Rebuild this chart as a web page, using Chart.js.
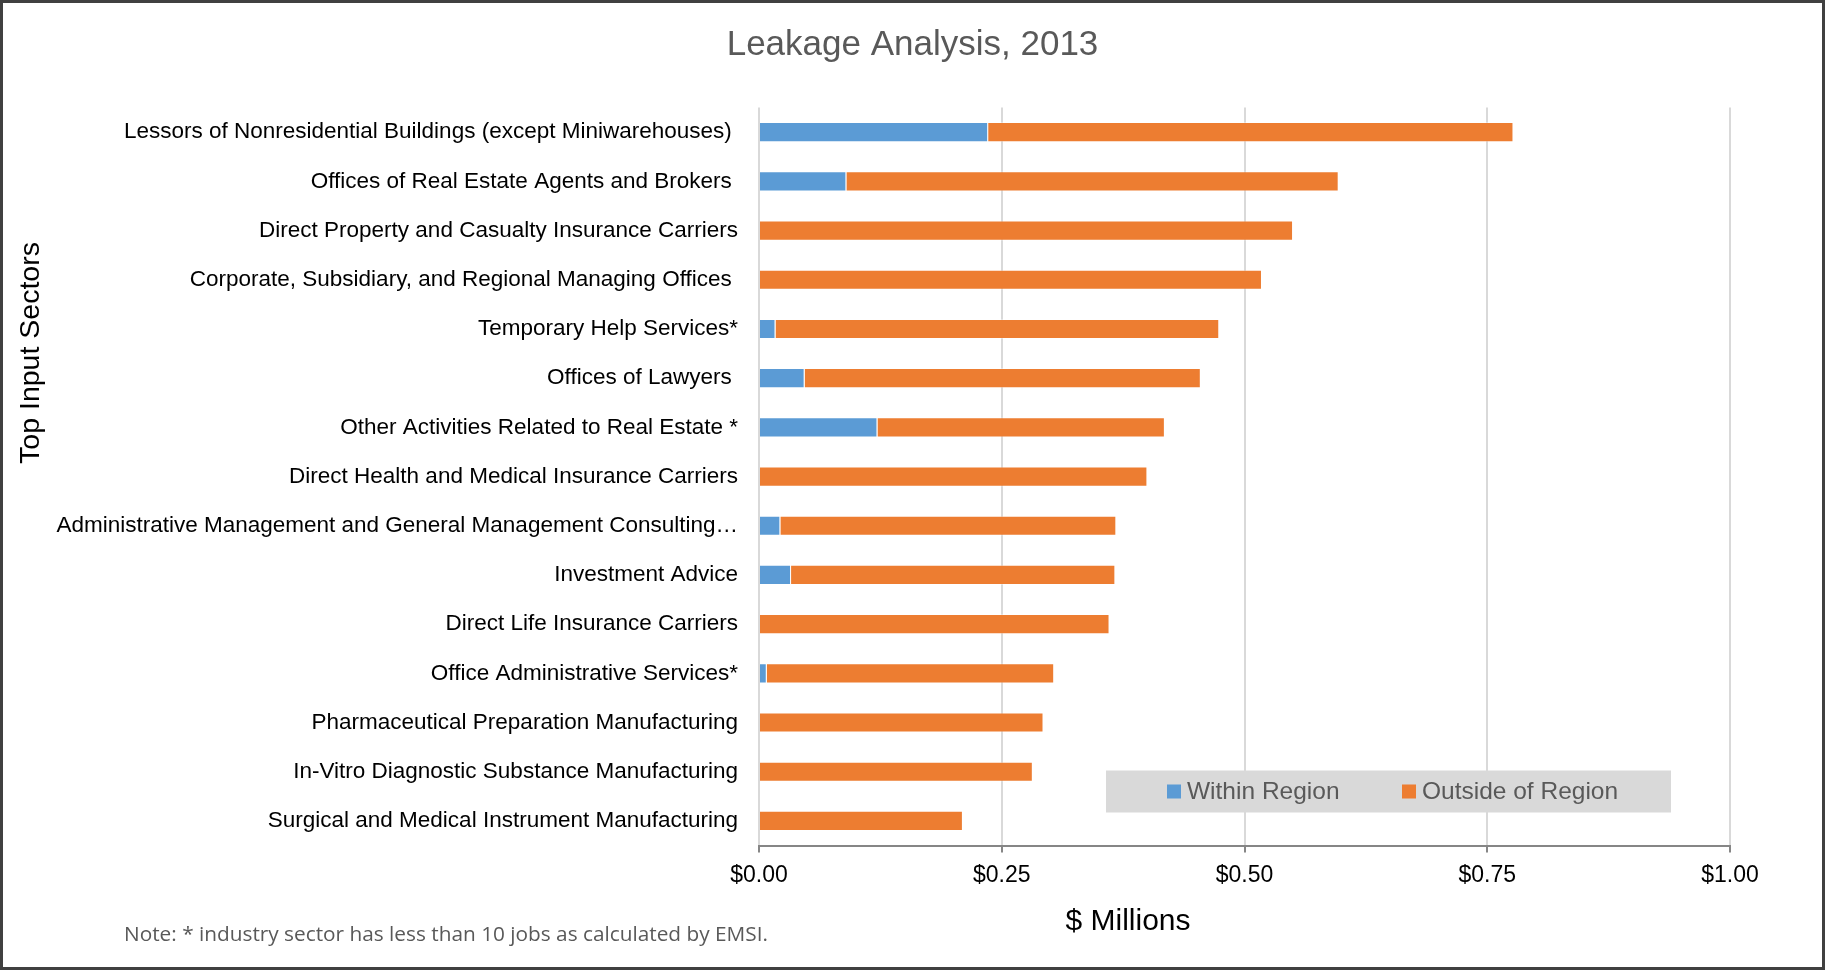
<!DOCTYPE html>
<html>
<head>
<meta charset="utf-8">
<title>Leakage Analysis, 2013</title>
<script src="https://cdn.jsdelivr.net/npm/chart.js@4/dist/chart.umd.min.js"></script>
<style>
  html, body { margin: 0; padding: 0; background: #fff; overflow: hidden; }
  #wrap { width: 1825px; height: 970px; }
</style>
</head>
<body>
<div id="wrap"><canvas id="chart-leakage" width="1825" height="970"></canvas></div>
<script>
// sectors, top to bottom
const sectors = [
    'Lessors of Nonresidential Buildings (except Miniwarehouses) ',
    'Offices of Real Estate Agents and Brokers ',
    'Direct Property and Casualty Insurance Carriers',
    'Corporate, Subsidiary, and Regional Managing Offices ',
    'Temporary Help Services*',
    'Offices of Lawyers ',
    'Other Activities Related to Real Estate *',
    'Direct Health and Medical Insurance Carriers',
    'Administrative Management and General Management Consulting…',
    'Investment Advice',
    'Direct Life Insurance Carriers',
    'Office Administrative Services*',
    'Pharmaceutical Preparation Manufacturing',
    'In-Vitro Diagnostic Substance Manufacturing',
    'Surgical and Medical Instrument Manufacturing'
];

// $ millions
const withinRegion = [0.236, 0.090, 0, 0, 0.017, 0.047, 0.122, 0, 0.022, 0.033, 0, 0.008, 0, 0, 0];
const outsideRegion = [0.541, 0.507, 0.550, 0.518, 0.457, 0.408, 0.296, 0.400, 0.346, 0.334, 0.361, 0.296, 0.293, 0.282, 0.210];

const xTicks = [0, 0.25, 0.5, 0.75, 1.0];

const FONT = '"Liberation Sans", Arial, sans-serif';
Chart.defaults.font.family = FONT;
Chart.defaults.color = '#000';

// title, extra text, legend box and frame (Excel style)
const extras = {
    id: 'extras',
    afterDraw(chart) {
        const ctx = chart.ctx;
        const ca = chart.chartArea;
        ctx.save();

        // chart title, centred on the whole canvas
        ctx.fillStyle = '#595959';
        ctx.font = '35px ' + FONT;
        ctx.textAlign = 'center';
        ctx.textBaseline = 'middle';
        ctx.fillText('Leakage Analysis, 2013', chart.width / 2, 45);

        // legend box inside the plot
        const bx = ca.left + 347, by = ca.bottom - 75, bw = 565, bh = 42;
        ctx.fillStyle = '#d9d9d9';
        ctx.fillRect(bx, by, bw, bh);
        ctx.font = '24.5px ' + FONT;
        ctx.textAlign = 'left';
        let lx = bx + 61;
        const midY = by + bh / 2;
        chart.data.datasets.forEach(ds => {
            ctx.fillStyle = ds.backgroundColor;
            ctx.fillRect(lx, midY - 7, 14, 14);
            ctx.fillStyle = '#595959';
            ctx.fillText(ds.label, lx + 20, midY + 1);
            lx += 235;
        });

        // axis titles
        ctx.fillStyle = '#000';
        ctx.font = '28.5px ' + FONT;
        ctx.textAlign = 'center';
        ctx.save();
        ctx.translate(31, 353);
        ctx.rotate(-Math.PI / 2);
        ctx.fillText('Top Input Sectors', 0, 0);
        ctx.restore();

        ctx.font = '30px ' + FONT;
        ctx.fillText('$ Millions', 1128, 922);

        // footnote
        ctx.font = '20.8px "Open Sans", sans-serif';
        ctx.fillStyle = '#595959';
        ctx.textAlign = 'left';
        ctx.fillText('Note: * industry sector has less than 10 jobs as calculated by EMSI.', 124, 935);

        // outer frame
        ctx.strokeStyle = '#404040';
        ctx.lineWidth = 3;
        ctx.strokeRect(1.5, 1.5, chart.width - 3, chart.height - 3);
        ctx.restore();
    }
};

const ctx = document.getElementById('chart-leakage').getContext('2d');

new Chart(ctx, {
    type: 'bar',
    data: {
        labels: sectors,
        datasets: [
            {
                label: 'Within Region',
                data: withinRegion,
                backgroundColor: '#5B9BD5',
                borderColor: 'rgba(255,255,255,0.35)',
                borderWidth: 1,
                barPercentage: 0.41,
                categoryPercentage: 1.0
            },
            {
                label: 'Outside of Region',
                data: outsideRegion,
                backgroundColor: '#ED7D31',
                borderColor: 'rgba(255,255,255,0.35)',
                borderWidth: 1,
                barPercentage: 0.41,
                categoryPercentage: 1.0
            }
        ]
    },
    options: {
        indexAxis: 'y',
        responsive: false,
        animation: false,
        devicePixelRatio: 1,
        layout: { padding: { left: 0, right: 95, top: 107.6, bottom: 64.5 } },
        plugins: {
            legend: { display: false },
            tooltip: { enabled: false },
            title: { display: false }
        },
        scales: {
            x: {
                stacked: true,
                min: 0,
                max: 1,
                afterBuildTicks(scale) {
                    scale.ticks = xTicks.map(v => ({ value: v }));
                },
                afterFit(scale) { scale.height = 60; },
                ticks: {
                    color: '#000',
                    font: { size: 23 },
                    padding: 9,
                    callback: v => '$' + Number(v).toFixed(2)
                },
                grid: {
                    color: '#d9d9d9',
                    lineWidth: 2,
                    tickColor: '#868686',
                    tickLength: 7,
                    tickWidth: 2
                },
                border: { color: '#868686', width: 2 }
            },
            y: {
                stacked: true,
                afterFit(scale) { scale.width = 759; },
                ticks: {
                    color: '#000',
                    font: { size: 22.5 },
                    padding: 21,
                    autoSkip: false
                },
                grid: { display: false, drawTicks: false },
                border: { display: false }
            }
        }
    },
    plugins: [extras]
});
</script>
</body>
</html>
